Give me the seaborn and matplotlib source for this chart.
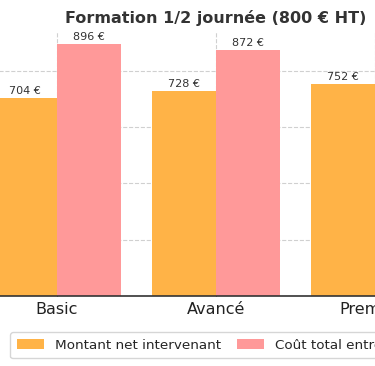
import matplotlib
matplotlib.use("Agg")
import matplotlib.pyplot as plt
import seaborn as sns
import pandas as pd

categories = ["Basic", "Avancé", "Premium"]
series_names = ["Montant net intervenant", "Coût total entreprise"]
net_values = [704, 728, 752]
total_values = [896, 872, 848]
colors = ["#FFB347", "#FF9999"]

df = pd.DataFrame({
    "Formule": categories * 2,
    "Série": [series_names[0]] * 3 + [series_names[1]] * 3,
    "Montant": net_values + total_values,
})

sns.set_style("whitegrid", {"grid.linestyle": "--", "grid.color": "#d0d0d0"})
plt.rcParams["font.family"] = ["DejaVu Sans"]

fig = plt.figure(figsize=(3.75, 3.66), dpi=100)
ax = fig.add_axes([-0.077, 0.1913, 1.306, 0.724])

sns.barplot(data=df, x="Formule", y="Montant", hue="Série", palette=colors,
            width=0.8, ax=ax, saturation=1, linewidth=0)

for cont in ax.containers:
    ax.bar_label(cont, labels=[f"{int(v)} €" for v in cont.datavalues],
                 padding=1.5, fontsize=8, color="#333333")

ax.set_xlim(-0.54, 2.54)
ax.set_ylim(0, 940.8)
ax.set_yticks([0, 200, 400, 600, 800])
ax.set_yticklabels([])
ax.set_xlabel("")
ax.set_ylabel("")
ax.tick_params(axis="x", labelsize=11.5, direction="in", length=4, color="#333333",
               bottom=True, pad=4, labelcolor="#222222")
ax.grid(True, axis="both", linestyle="--", color="#d0d0d0", linewidth=0.8)
for s in ["top", "right", "left"]:
    ax.spines[s].set_visible(False)
ax.spines["bottom"].set_color("#333333")
ax.spines["bottom"].set_linewidth(1.2)

ax.set_title("Formation 1/2 journée (800 € HT)", fontsize=11.5, fontweight="bold",
             color="#333333", pad=6)

ax.legend_.remove()
handles = ax.containers
fig.legend(handles, series_names, loc="upper center", ncol=2,
           bbox_to_anchor=(216 / 375, 1 - 332 / 366), bbox_transform=fig.transFigure,
           fontsize=9.7, frameon=True, borderaxespad=0, handlelength=2.0,
           handleheight=0.8, columnspacing=1.2, borderpad=0.5)

fig.savefig("out.png", dpi=100)
